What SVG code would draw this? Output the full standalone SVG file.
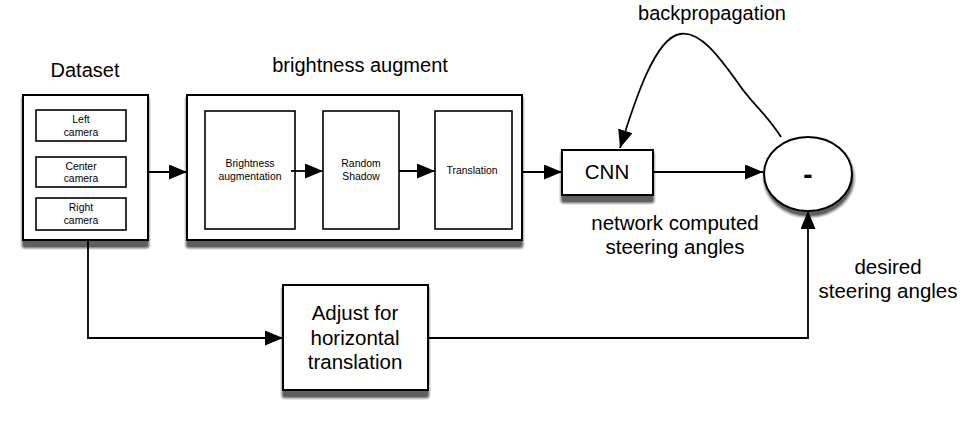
<svg xmlns="http://www.w3.org/2000/svg" width="960" height="422" viewBox="0 0 960 422">
<defs>
<marker id="ah" markerWidth="18" markerHeight="15" refX="18" refY="7.5" orient="auto" markerUnits="userSpaceOnUse">
<path d="M0,0 L18,7.5 L0,15 Z" fill="#000"/>
</marker>
</defs>
<style>
.box{fill:#fff;stroke:#000;stroke-width:2}
.in{fill:#fff;stroke:#000;stroke-width:1.6}
.sh{fill:#000;stroke:none}
.s1{opacity:0.1}
.s2{opacity:0.16}
.s3{opacity:0.24}
.s4{opacity:0.35}
.t{font-family:"Liberation Sans",Arial,sans-serif;fill:#000;text-anchor:middle}
.s{font-size:10.4px}
.m{font-size:20px}
.l{font-size:20.5px}
.c{fill:none;stroke:#000;stroke-width:1.8}
</style>
<g id="dataset">
<text class="t m" x="85" y="77">Dataset</text>
<rect class="sh s1" x="20" y="95" width="131" height="155" rx="5"/>
<rect class="sh s2" x="21" y="96" width="129" height="153" rx="4"/>
<rect class="sh s3" x="22" y="97" width="127" height="151" rx="3"/>
<rect class="sh s4" x="23" y="98" width="125" height="149" rx="2"/>
<rect class="box" x="23" y="95" width="125" height="145"/>
<rect class="in" x="36" y="110" width="90" height="31"/>
<text class="t s" x="81" y="123">Left</text>
<text class="t s" x="81" y="136">camera</text>
<rect class="in" x="36" y="157" width="90" height="30"/>
<text class="t s" x="81" y="170">Center</text>
<text class="t s" x="81" y="182">camera</text>
<rect class="in" x="36" y="198" width="90" height="32"/>
<text class="t s" x="81" y="211">Right</text>
<text class="t s" x="81" y="224">camera</text>
</g>
<g id="augment">
<text class="t m" x="360" y="72">brightness augment</text>
<rect class="sh s1" x="184" y="95" width="341" height="155" rx="5"/>
<rect class="sh s2" x="185" y="96" width="339" height="153" rx="4"/>
<rect class="sh s3" x="186" y="97" width="337" height="151" rx="3"/>
<rect class="sh s4" x="187" y="98" width="335" height="149" rx="2"/>
<rect class="box" x="187" y="95" width="335" height="145"/>
<rect class="in" x="205" y="111" width="90" height="118"/>
<text class="t s" x="250" y="167">Brightness</text>
<text class="t s" x="250" y="180">augmentation</text>
<rect class="in" x="323" y="111" width="76" height="118"/>
<text class="t s" x="361" y="167">Random</text>
<text class="t s" x="361" y="180">Shadow</text>
<rect class="in" x="435" y="111" width="77" height="118"/>
<text class="t s" x="472" y="174">Translation</text>
</g>
<g id="cnn">
<rect class="sh s1" x="559" y="150" width="97" height="55" rx="5"/>
<rect class="sh s2" x="560" y="151" width="95" height="53" rx="4"/>
<rect class="sh s3" x="561" y="152" width="93" height="51" rx="3"/>
<rect class="sh s4" x="562" y="153" width="91" height="49" rx="2"/>
<rect class="box" x="562" y="150" width="91" height="45"/>
<text class="t l" x="607" y="179">CNN</text>
</g>
<g id="diff">
<ellipse class="sh s1" cx="809" cy="178" rx="47" ry="41"/>
<ellipse class="sh s2" cx="809" cy="178" rx="46" ry="40"/>
<ellipse class="sh s3" cx="809" cy="178" rx="45" ry="39"/>
<ellipse class="sh s4" cx="809" cy="178" rx="44" ry="38"/>
<ellipse class="box" cx="808" cy="174" rx="44" ry="37"/>
<text class="t" x="808" y="184" font-size="28" font-weight="bold">-</text>
</g>
<g id="adjust">
<rect class="sh s1" x="280" y="285" width="151" height="115" rx="5"/>
<rect class="sh s2" x="281" y="286" width="149" height="113" rx="4"/>
<rect class="sh s3" x="282" y="287" width="147" height="111" rx="3"/>
<rect class="sh s4" x="283" y="288" width="145" height="109" rx="2"/>
<rect class="box" x="283" y="285" width="145" height="105"/>
<text class="t l" x="355" y="320">Adjust for</text>
<text class="t l" x="355" y="345">horizontal</text>
<text class="t l" x="355" y="369">translation</text>
</g>
<g id="labels">
<text class="t m" x="712" y="20">backpropagation</text>
<text class="t l" x="675" y="230">network computed</text>
<text class="t l" x="675" y="254">steering angles</text>
<text class="t l" x="888" y="274">desired</text>
<text class="t l" x="888" y="298">steering angles</text>
</g>
<g id="connectors">
<path class="c" d="M148,172 H187" marker-end="url(#ah)"/>
<path class="c" d="M291,171 H323" marker-end="url(#ah)"/>
<path class="c" d="M399,171 H435" marker-end="url(#ah)"/>
<path class="c" d="M522,172 H562" marker-end="url(#ah)"/>
<path class="c" d="M653,172 H763" marker-end="url(#ah)"/>
<path class="c" d="M781,137 C765,112 752,104 738,83 C720,58 700,30 680,34 C655,38 635,100 620,148" marker-end="url(#ah)"/>
<path class="c" d="M88,240 V338 H283" marker-end="url(#ah)"/>
<path class="c" d="M428,338 H808 V211" marker-end="url(#ah)"/>
</g>
</svg>
